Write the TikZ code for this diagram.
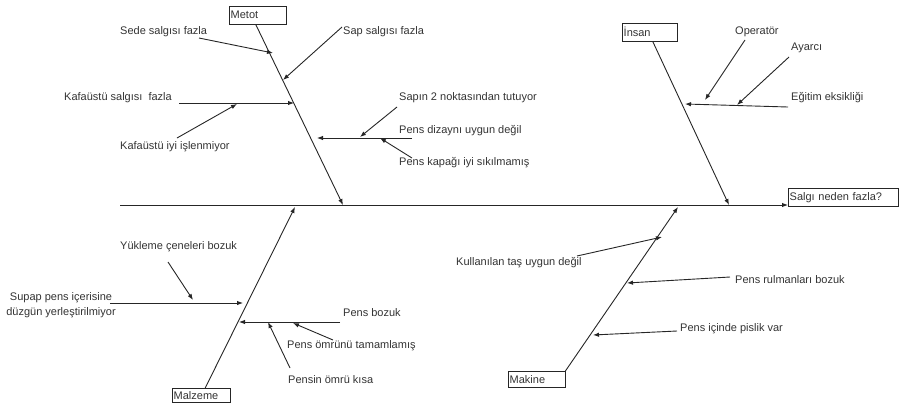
\documentclass[tikz,border=0pt]{standalone}
\usepackage{fontspec}
\setmainfont{Liberation Sans}
\usetikzlibrary{arrows.meta}

\tikzset{
  cause/.style={anchor=west, inner sep=0pt, text=black!80, font=\fontsize{11}{13}\selectfont},
  catbox/.style={draw=black!85, anchor=north west, inner sep=1.5pt, align=left, text=black!80, font=\fontsize{11}{13}\selectfont},
  bone/.style={-{Latex[length=6pt,width=4.5pt]}, draw=black!85, line width=0.9pt}
}

\begin{document}
\begin{tikzpicture}[x=1pt,y=-1pt]
    \useasboundingbox (0,0) rectangle (902,408);
    % kategori kutulari
    \node[catbox, text width=54pt, minimum height=18pt] (metot) at (229,6) {Metot};
    \node[catbox, text width=52pt, minimum height=18pt] (insan) at (622,23) {İnsan};
    \node[catbox, text width=55pt, minimum height=14pt] (malzeme) at (172,388) {Malzeme};
    \node[catbox, text width=54pt, minimum height=16pt] (makine) at (508,371) {Makine};
    \node[catbox, text width=107pt, minimum height=18pt] (head) at (788,188) {Salgı neden fazla?};

    % omurga
    \coordinate (tail) at (120,205);
    \draw[bone, line width=1pt] (tail) -- (tail -| head.west);

    % ana kemikler
    \coordinate (metotS) at (343,205);
    \coordinate (insanS) at (729,205);
    \coordinate (malzS) at (295,207);
    \coordinate (makS) at (678,207);
    \draw[bone] ([xshift=-2pt]metot.south) -- (metotS);
    \draw[bone] ([xshift=3pt]insan.south) -- (insanS);
    \draw[bone] ([xshift=4pt]malzeme.north) -- (malzS);
    \draw[bone] (makine.north east) -- (makS);

    % metot
    \node[cause] (sede) at (120,32) {Sede salgısı fazla};
    \node[cause] (sap) at (343,32) {Sap salgısı fazla};
    \node[cause] (kafa) at (64,98) {Kafaüstü salgısı\ \ fazla};
    \node[cause] (kafaiyi) at (120,147) {Kafaüstü iyi işlenmiyor};
    \node[cause] (sapin) at (399,98) {Sapın 2 noktasından tutuyor};
    \node[cause] (dizayn) at (399,131) {Pens dizaynı uygun değil};
    \node[cause] (kapak) at (399,163) {Pens kapağı iyi sıkılmamış};
    \coordinate (sedeA) at (199,38);   \coordinate (sedeB) at (273,53);
    \coordinate (sapA) at (342,27);    \coordinate (sapB) at (283,80);
    \coordinate (kafaA) at (179,103);  \coordinate (kafaB) at (294,103);
    \coordinate (kiyiA) at (177,138);  \coordinate (kiyiB) at (237,104);
    \coordinate (dizA) at (412,138);   \coordinate (dizB) at (317,138);
    \coordinate (sapinA) at (397,107); \coordinate (sapinB) at (360,137);
    \coordinate (kapA) at (412,158);   \coordinate (kapB) at (380,138);
    \draw[bone] (sedeA) -- (sedeB);
    \draw[bone] (sapA) -- (sapB);
    \draw[bone] (kafaA) -- (kafaB);
    \draw[bone] (kiyiA) -- (kiyiB);
    \draw[bone] (dizA) -- (dizB);
    \draw[bone] (sapinA) -- (sapinB);
    \draw[bone] (kapA) -- (kapB);

    % insan
    \node[cause] (operator) at (735,32) {Operatör};
    \node[cause] (ayarci) at (791,48) {Ayarcı};
    \node[cause] (egitim) at (791,98) {Eğitim eksikliği};
    \coordinate (egA) at (788,107);    \coordinate (egB) at (685,104);
    \coordinate (opA) at (745,40);     \coordinate (opB) at (705,100);
    \coordinate (ayA) at (789,57);     \coordinate (ayB) at (737,105);
    \draw[bone] (egA) -- (egB);
    \draw[bone] (opA) -- (opB);
    \draw[bone] (ayA) -- (ayB);

    % malzeme
    \node[cause] (yukleme) at (120,247) {Yükleme çeneleri bozuk};
    \node[cause, anchor=center, align=center, font=\fontsize{11}{15}\selectfont] (supap) at (61,305) {Supap pens içerisine\\düzgün yerleştirilmiyor};
    \node[cause] (pensbozuk) at (343,313) {Pens bozuk};
    \node[cause] (omrunu) at (287,346) {Pens ömrünü tamamlamış};
    \node[cause] (pensin) at (288,380) {Pensin ömrü kısa};
    \coordinate (yukA) at (168,262);   \coordinate (yukB) at (193,300);
    \coordinate (supA) at (110,303);   \coordinate (supB) at (243,303);
    \coordinate (pbA) at (340,322);    \coordinate (pbB) at (239,322);
    \coordinate (omA) at (333,340);    \coordinate (omB) at (293,323);
    \coordinate (piA) at (290,368);    \coordinate (piB) at (268,322);
    \draw[bone] (yukA) -- (yukB);
    \draw[bone] (supA) -- (supB);
    \draw[bone] (pbA) -- (pbB);
    \draw[bone] (omA) -- (omB);
    \draw[bone] (piA) -- (piB);

    % makine
    \node[cause] (tas) at (456,263) {Kullanılan taş uygun değil};
    \node[cause] (rulman) at (735,280) {Pens rulmanları bozuk};
    \node[cause] (pislik) at (680,329) {Pens içinde pislik var};
    \coordinate (tasA) at (577,256);   \coordinate (tasB) at (662,237);
    \coordinate (rulA) at (730,277);   \coordinate (rulB) at (627,283);
    \coordinate (pisA) at (677,331);   \coordinate (pisB) at (593,335);
    \draw[bone] (tasA) -- (tasB);
    \draw[bone] (rulA) -- (rulB);
    \draw[bone] (pisA) -- (pisB);
\end{tikzpicture}
\end{document}
